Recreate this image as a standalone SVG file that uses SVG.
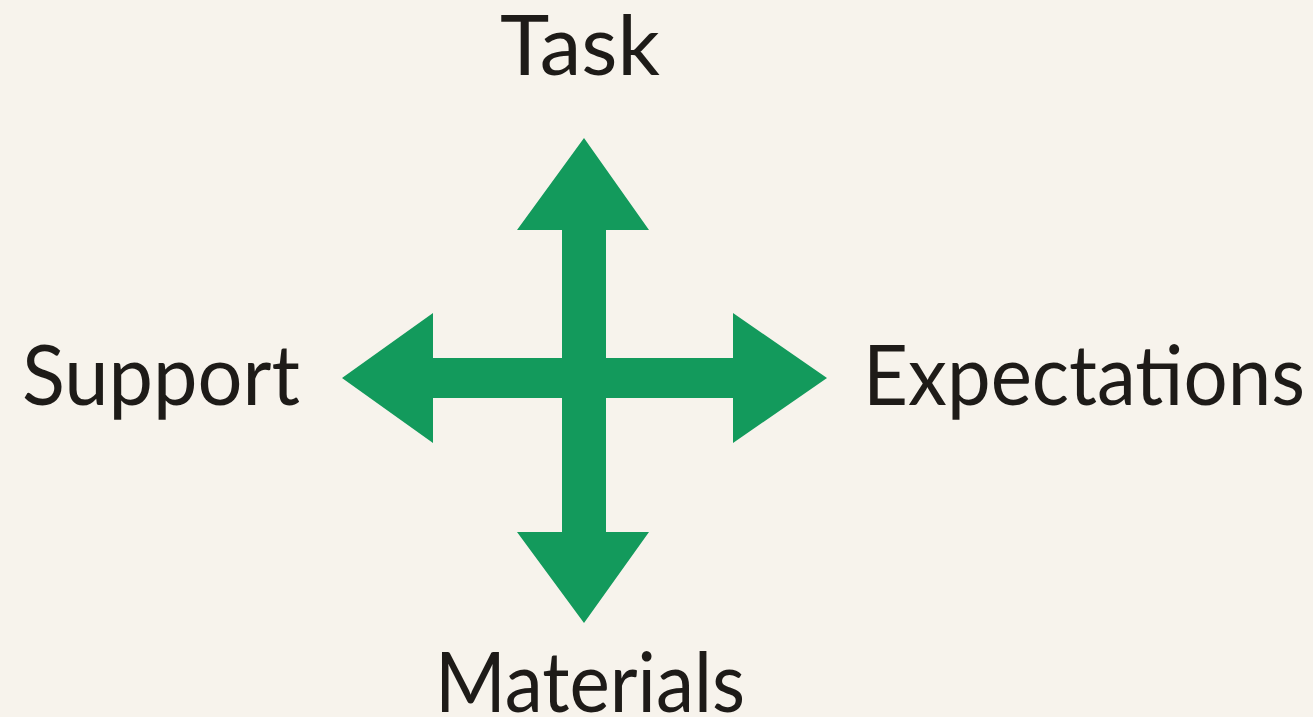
<svg xmlns="http://www.w3.org/2000/svg" width="1313" height="717" viewBox="0 0 1313 717">
  <style>
    .bg { fill: #f7f3ec; }
    .arrow { fill: #139a5c; }
    .label { font-family: Lato, "Open Sans", "Liberation Sans", sans-serif; font-size: 84px; fill: #1e1b18; }
  </style>
  <rect class="bg" x="0" y="0" width="1313" height="717"/>

  <!-- four-way arrow: one vertical and one horizontal double-headed arrow -->
  <g id="connectors">
    <polygon class="arrow" points="584,138 649,230 606,230 606,532 649,532 584,623 517,532 562,532 562,230 517,230"/>
    <polygon class="arrow" points="342,378 433,313 433,358 733,358 733,313 827,378 733,443 733,398 433,398 433,443"/>
  </g>

  <g id="task">
    <text class="label" x="500" y="75" textLength="160" lengthAdjust="spacingAndGlyphs">Task</text>
  </g>
  <g id="support">
    <text class="label" x="22" y="405" textLength="278" lengthAdjust="spacingAndGlyphs">Support</text>
  </g>
  <g id="expectations">
    <text class="label" x="863" y="405" textLength="442" lengthAdjust="spacingAndGlyphs">Expectations</text>
  </g>
  <g id="materials">
    <text class="label" x="435" y="712" textLength="310" lengthAdjust="spacingAndGlyphs">Materials</text>
  </g>
</svg>
